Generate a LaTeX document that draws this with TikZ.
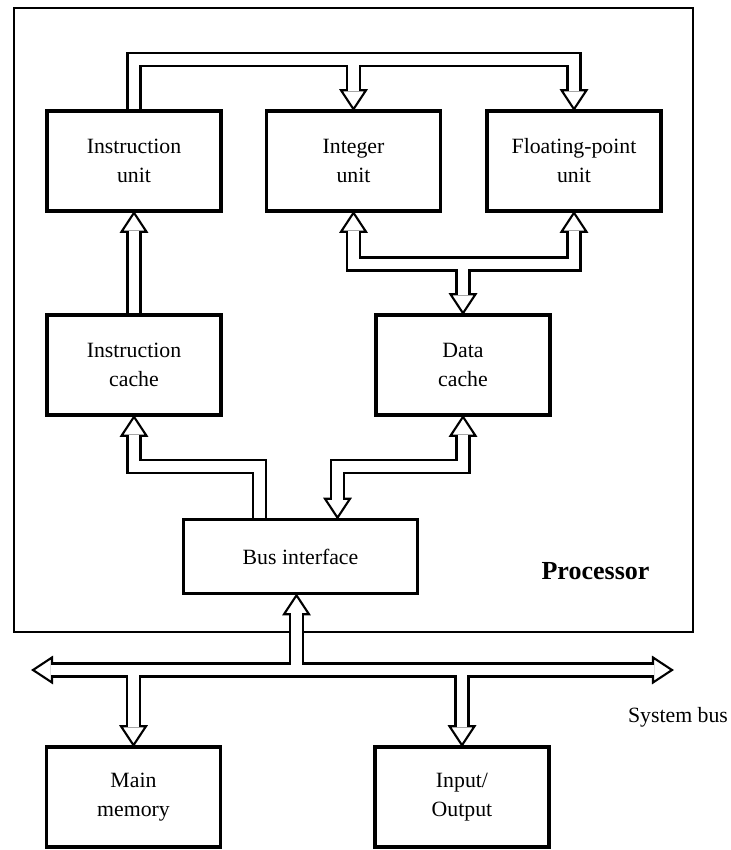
\documentclass[tikz,border=0pt]{standalone}
\usepackage{fontspec}
\setmainfont{Liberation Serif}
\usetikzlibrary{calc}

\begin{document}
\begin{tikzpicture}[
  x=0.025cm, y=-0.025cm,
  unit/.style={rectangle, draw, line width=2.5pt, minimum width=4.35cm, minimum height=2.5cm, text centered, align=center, font=\fontsize{15.5}{20.6}\selectfont},
  procframe/.style={rectangle, draw, line width=2pt, minimum width=16.975cm, minimum height=15.6cm},
  bus/.style={draw, line width=1.5pt, double=white, double distance=0.27cm},
  hollowtip/.pic={\draw[line width=1.5pt, fill=white] (0,0) -- (-12.5,19) -- (12.5,19) -- cycle;}
]
  \useasboundingbox (0,0) rectangle (731,850);

  % processor frame
  \node[procframe] (proc) at (353.5,320) {};
  \node[font=\fontsize{18.5}{22}\selectfont\bfseries] (proclabel) at (595.5,571) {Processor};

  \node[unit] (iu) at (134,161) {Instruction\\unit};
  \node[unit] (intu) at (353.5,161) {Integer\\unit};
  \node[unit] (fpu) at (574,161) {Floating-point\\unit};
  \node[unit] (ic) at (134,365) {Instruction\\cache};
  \node[unit] (dc) at (463,365) {Data\\cache};
  \node[unit, minimum width=5.85cm, minimum height=1.85cm] (bi) at (300.5,556.5) {Bus interface};
  \node[unit] (mm) at (133.5,797) {Main\\memory};
  \node[unit] (io) at (462,797) {Input/\\Output};
  \node[font=\fontsize{15.5}{20.6}\selectfont] (buslabel) at (678,717) {System bus};

  \coordinate (topbus) at (0,59.5);
  \coordinate (midbus) at (0,264);
  \coordinate (lowbus) at (0,466.5);
  \coordinate (sbl) at (33,670);
  \coordinate (sbr) at (672,670);

  % heads first, shafts on top
  \pic at (iu.south) {hollowtip};
  \pic[rotate=180] at (intu.north) {hollowtip};
  \pic[rotate=180] at (fpu.north) {hollowtip};
  \pic at (intu.south) {hollowtip};
  \pic at (fpu.south) {hollowtip};
  \pic[rotate=180] at (dc.north) {hollowtip};
  \pic at (ic.south) {hollowtip};
  \pic at (dc.south) {hollowtip};
  \pic[rotate=180] at ($(bi.north)+(37,0)$) {hollowtip};
  \pic at ($(bi.south)+(-4,0)$) {hollowtip};
  \pic[rotate=90] at (sbl) {hollowtip};
  \pic[rotate=-90] at (sbr) {hollowtip};
  \pic[rotate=180] at (mm.north) {hollowtip};
  \pic[rotate=180] at (io.north) {hollowtip};

  \draw[bus] (ic.north) -- ($(iu.south)+(0,18)$);
  \draw[bus] (iu.north) |- (fpu.north |- topbus) -- ($(fpu.north)+(0,-18)$);
  \draw[bus] ($(intu.north |- topbus)+(0,5.4)$) -- ($(intu.north)+(0,-18)$);
  \draw[bus] ($(intu.south)+(0,18)$) |- (fpu.south |- midbus) -- ($(fpu.south)+(0,18)$);
  \draw[bus] ($(dc.north |- midbus)+(0,5.4)$) -- ($(dc.north)+(0,-18)$);
  \draw[bus] ($(bi.north)+(-41,0)$) |- (ic.south |- lowbus) -- ($(ic.south)+(0,18)$);
  \draw[bus] ($(dc.south)+(0,18)$) |- ($(bi.north |- lowbus)+(37,0)$) -- ($(bi.north)+(37,-18)$);

  % system bus
  \draw[bus] ($(sbl)+(18,0)$) -- ($(sbr)+(-18,0)$);
  \draw[bus] ($(bi.south |- sbl)+(-4,-5.4)$) -- ($(bi.south)+(-4,18)$);
  \draw[bus] ($(mm.north |- sbl)+(0,5.4)$) -- ($(mm.north)+(0,-18)$);
  \draw[bus] ($(io.north |- sbl)+(0,5.4)$) -- ($(io.north)+(0,-18)$);
\end{tikzpicture}
\end{document}
